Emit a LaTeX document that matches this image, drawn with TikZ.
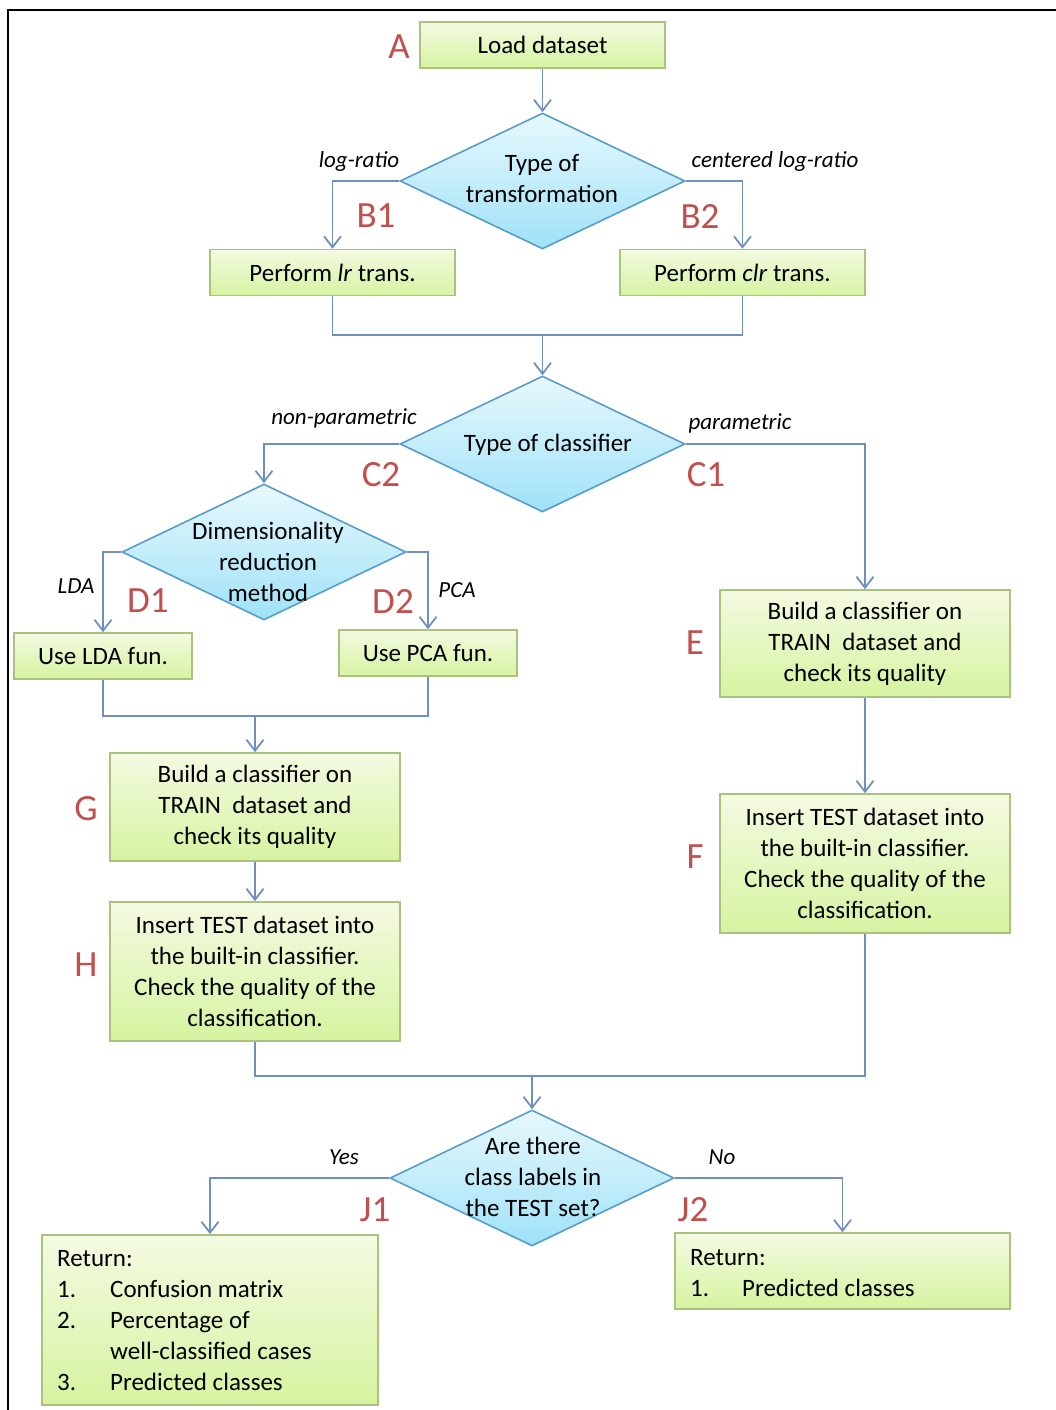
\documentclass[tikz,border=0pt]{standalone}
\usepackage{fontspec}
\setmainfont{Carlito}
\usetikzlibrary{shapes.geometric,arrows.meta}
\definecolor{boxborder}{HTML}{A9C27E}
\definecolor{boxtop}{HTML}{F4FAE2}
\definecolor{boxbot}{HTML}{D6F3A0}
\definecolor{diaborder}{HTML}{5A9CC9}
\definecolor{diatop}{HTML}{E8F8FD}
\definecolor{diabot}{HTML}{9FE2F8}
\definecolor{conncol}{HTML}{6E8FBF}
\definecolor{lblcol}{HTML}{C0504D}
\begin{document}
\begin{tikzpicture}[x=1pt,y=-1pt,
  every node/.style={font=\fontsize{25}{31}\selectfont},
  box/.style={rectangle, draw=boxborder, line width=1.6pt, top color=boxtop, bottom color=boxbot, inner sep=0pt, align=center},
  dia/.style={diamond, draw=diaborder, line width=1.6pt, top color=diatop, bottom color=diabot, inner sep=0pt},
  conn/.style={draw=conncol, line width=1.8pt},
  arr/.style={conn, -{Straight Barb[length=11pt,width=17pt]}},
  tag/.style={text=lblcol, font=\fontsize{37}{40}\selectfont},
  cond/.style={font=\fontsize{23}{26}\selectfont\itshape},
  txt/.style={align=center, inner sep=0pt},
]
\useasboundingbox (0,0) rectangle (1056,1410);
\draw[line width=2.5pt] (8,1410) -- (8,10) -- (1056,10);

% A
\node[box, minimum width=245pt, minimum height=46pt] (A) at (542.5,45) {Load dataset};
\node[tag] (tA) at (399,47) {A};

% B
\node[dia, minimum width=285pt, minimum height=136pt] (B) at (542.5,181) {};
\node[txt] (Bt) at (542,179) {Type of\\transformation};
\draw[arr] (A) -- (B);
\node[box, minimum width=245pt, minimum height=46pt] (B1) at (332.5,272.5) {Perform \textit{lr} trans.};
\node[box, minimum width=245pt, minimum height=46pt] (B2) at (742.5,272.5) {Perform \textit{clr} trans.};
\draw[arr] (B.west) -| (B1.north);
\draw[arr] (B.east) -| (B2.north);
\node[cond] (lr) at (359,161) {log-ratio};
\node[cond] (clr) at (775,161) {centered log-ratio};
\node[tag] (tB1) at (376,216) {B1};
\node[tag] (tB2) at (700,216) {B2};

% C
\coordinate (m1) at (542.5,335);
\node[dia, minimum width=285pt, minimum height=136pt] (C) at (542.5,444) {};
\node[txt] (Ct) at (548,445) {Type of classifier};
\draw[conn] (B1.south) |- (m1) -| (B2.south);
\draw[arr] (m1) -- (C.north);
\node[cond] (np) at (344,418) {non-parametric};
\node[cond] (pa) at (740,423) {parametric};
\node[tag] (tC2) at (381,475) {C2};
\node[tag] (tC1) at (706,475) {C1};

% D
\node[dia, minimum width=284pt, minimum height=136pt] (D) at (264,552) {};
\node[txt] (Dt) at (268,561.5) {Dimensionality\\reduction\\method};
\draw[arr] (C.west) -| (D.north);
\node[box, minimum width=178pt, minimum height=46pt] (LDA) at (103,656) {Use LDA fun.};
\node[box, minimum width=178pt, minimum height=46pt] (PCA) at (428,653) {Use PCA fun.};
\draw[arr] (D.west) -| (LDA.north);
\draw[arr] (D.east) -| (PCA.north);
\node[cond] (lda) at (76,586) {LDA};
\node[cond] (pca) at (457,590) {PCA};
\node[tag] (tD1) at (148,601) {D1};
\node[tag] (tD2) at (393,601) {D2};

% G, H
\coordinate (m2) at (255,716);
\node[box, minimum width=290pt, minimum height=108pt] (G) at (255,807) {Build a classifier on\\TRAIN\ \ dataset and\\check its quality};
\draw[conn] (LDA.south) |- (m2) -| (PCA.south);
\draw[arr] (m2) -- (G.north);
\node[tag] (tG) at (86,809) {G};
\node[box, minimum width=290pt, minimum height=139pt] (H) at (255,971.5) {Insert TEST dataset into\\the built-in classifier.\\Check the quality of the\\classification.};
\draw[arr] (G) -- (H);
\node[tag] (tH) at (86,965) {H};

% E, F
\node[box, minimum width=290pt, minimum height=107pt] (E) at (865,643.5) {Build a classifier on\\TRAIN\ \ dataset and\\check its quality};
\draw[arr] (C.east) -| (E.north);
\node[tag] (tE) at (695,643) {E};
\node[box, minimum width=290pt, minimum height=139pt] (F) at (865,863.5) {Insert TEST dataset into\\the built-in classifier.\\Check the quality of the\\classification.};
\draw[arr] (E) -- (F);
\node[tag] (tF) at (695,857) {F};

% J
\coordinate (m3) at (532,1076);
\node[dia, minimum width=284pt, minimum height=136pt] (J) at (532,1178) {};
\node[txt] (Jt) at (533,1177) {Are there\\class labels in\\the TEST set?};
\draw[conn] (H.south) |- (m3) -| (F.south);
\draw[arr] (m3) -- (J.north);
\node[box, minimum width=336pt, minimum height=170pt] (J1) at (210,1320) {};
\node[box, minimum width=335pt, minimum height=76pt] (J2) at (842.5,1271) {};
\draw[arr] (J.west) -| (J1.north);
\draw[arr] (J.east) -| (J2.north);
\node[anchor=west, inner sep=0pt] (J1t) at (57,1322.5) {\begin{tabular}{@{}p{53pt}@{}l@{}}
\multicolumn{2}{@{}l@{}}{Return:}\\
1. & Confusion matrix\\
2. & Percentage of\\
 & well-classified cases\\
3. & Predicted classes
\end{tabular}};
\node[anchor=west, inner sep=0pt] (J2t) at (690,1274.5) {\begin{tabular}{@{}p{52pt}@{}l@{}}
\multicolumn{2}{@{}l@{}}{Return:}\\
1. & Predicted classes
\end{tabular}};
\node[cond] (yes) at (344,1157) {Yes};
\node[cond] (no) at (722,1157) {No};
\node[tag] (tJ1) at (375,1210) {J1};
\node[tag] (tJ2) at (693,1210) {J2};
\end{tikzpicture}
\end{document}
